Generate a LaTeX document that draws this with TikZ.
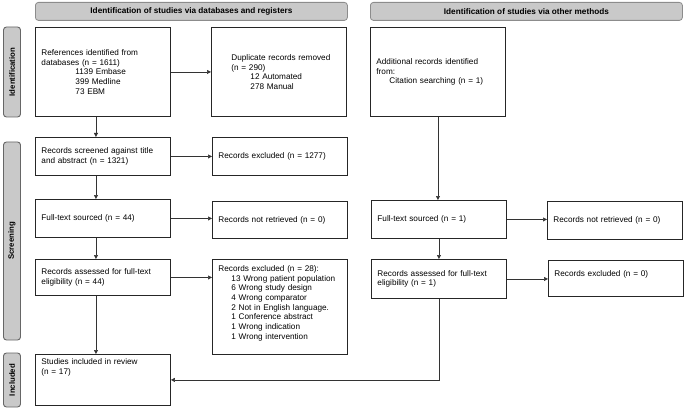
\documentclass[tikz,border=0pt]{standalone}
\usepackage{fontspec}
\setmainfont{Liberation Sans}
\usetikzlibrary{positioning, calc, arrows.meta}

\begin{document}
\begin{tikzpicture}
		[x=1pt, y=-1pt,
		 every node/.style={font=\fontsize{8.2}{9.7}\selectfont},
		 headbox/.style={draw=black!45, fill=black!21, rounded corners=3pt, line width=0.8pt, anchor=north west, minimum width=312pt, minimum height=18pt, font=\fontsize{8.2}{9.7}\selectfont\bfseries},
		 stagebox/.style={draw=black!60, fill=black!21, rounded corners=3pt, line width=0.9pt, rotate=90, minimum height=17pt, inner sep=0pt, font=\fontsize{7.8}{9}\selectfont\bfseries},
		 recbox/.style={draw=black!85, line width=0.9pt, anchor=north west, align=left, inner xsep=6pt, minimum width=135pt, text width=123pt},
		 flow/.style={draw=black!80, line width=0.5pt, -{Triangle[length=4pt, width=4pt]}}]
		\useasboundingbox (0,0) rectangle (685,409);
		\node[headbox] (dbhead) at (35,2) {Identification of studies via databases and registers};
		\node[headbox] (otherhead) at (370,2) {Identification of studies via other methods};
		\node[stagebox, minimum width=90pt] (idstage) at (12,72) {Identification};
		\node[stagebox, minimum width=198pt] (scrstage) at (12,241) {Screening};
		\node[stagebox, minimum width=54pt] (incstage) at (12,380) {Included};
		
		\node[recbox, minimum height=89pt] (refs) at (35,27) {References identified from\\databases (n = 1611)\\\hspace*{34pt}1139 Embase\\\hspace*{34pt}399 Medline\\\hspace*{34pt}73 EBM};
		\node[recbox, minimum height=89pt] (dup) at (211,27) {\hspace*{14pt}Duplicate records removed\\\hspace*{14pt}(n = 290)\\\hspace*{33pt}12 Automated\\\hspace*{33pt}278 Manual};
		\node[recbox, minimum height=89pt] (add) at (370,27) {Additional records identified\\from:\\\hspace*{13pt}Citation searching (n = 1)};
		
		\node[recbox, minimum height=38pt] (screened) at (35,137) {Records screened against title\\and abstract (n = 1321)};
		\node[recbox, minimum height=38pt] (excl) at (212,137) {Records excluded (n = 1277)};
		\node[recbox, minimum height=38pt] (sourced) at (35,199) {Full-text sourced (n = 44)};
		\node[recbox, minimum height=37pt] (notret) at (212,201) {Records not retrieved (n = 0)};
		\node[recbox, minimum height=36pt] (assessed) at (35,259) {Records assessed for full-text\\eligibility (n = 44)};
		\node[recbox, inner ysep=6pt, text depth=77pt] (reasons) at (212,259) {Records excluded (n = 28):\\\hspace*{13pt}13 Wrong patient population\\\hspace*{13pt}6 Wrong study design\\\hspace*{13pt}4 Wrong comparator\\\hspace*{13pt}2 Not in English language.\\\hspace*{13pt}1 Conference abstract\\\hspace*{13pt}1 Wrong indication\\\hspace*{13pt}1 Wrong intervention};
		\node[recbox, inner ysep=4pt, text depth=37pt] (included) at (35,354) {Studies included in review\\(n = 17)};
		
		\node[recbox, minimum height=38pt] (sourcedb) at (371,200) {Full-text sourced (n = 1)};
		\node[recbox, minimum height=38pt] (notretb) at (547,201) {Records not retrieved (n = 0)};
		\node[recbox, minimum height=39pt] (assessedb) at (371,259) {Records assessed for full-text\\eligibility (n = 1)};
		\node[recbox, inner ysep=10pt, text depth=10pt] (exclb) at (548,260) {Records excluded (n = 0)};
		
		\draw[flow] (refs) -- (dup);
		\draw[flow] ([xshift=-7pt]refs.south) -- ([xshift=-7pt]screened.north);
		\draw[flow] (screened.east) -- (screened.east -| excl.west);
		\draw[flow] ([xshift=-7pt]screened.south) -- ([xshift=-7pt]sourced.north);
		\draw[flow] (sourced.east) -- (sourced.east -| notret.west);
		\draw[flow] ([xshift=-7pt]sourced.south) -- ([xshift=-7pt]assessed.north);
		\draw[flow] (assessed.east) -- (assessed.east -| reasons.west);
		\draw[flow] ([xshift=-7pt]assessed.south) -- ([xshift=-7pt]included.north);
		\draw[flow] (add.south) -- (add.south |- sourcedb.north);
		\draw[flow] (sourcedb.east) -- (sourcedb.east -| notretb.west);
		\draw[flow] (sourcedb.south) -- (sourcedb.south |- assessedb.north);
		\draw[flow] (assessedb.east) -- (assessedb.east -| exclb.west);
		\draw[flow] (assessedb.south) |- (included.east);
\end{tikzpicture}
\end{document}
